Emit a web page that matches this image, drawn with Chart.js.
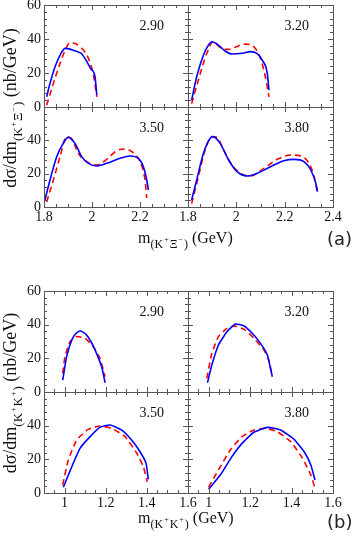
<!DOCTYPE html>
<html>
<head>
<meta charset="utf-8">
<script src="https://cdn.jsdelivr.net/npm/chart.js@4.4.1/dist/chart.umd.min.js"></script>
<style>
  body { margin: 0; background: #fff; }
  #wrap { position: relative; width: 353px; height: 546px; overflow: hidden; }
  #wrap canvas { position: absolute; left: 0; top: 0; }
  .txt { position: absolute; white-space: nowrap; font-family: "Liberation Serif", serif; color: #111; }
  .xt { font-size: 16px; line-height: 16px; }
  .yt { font-size: 18px; line-height: 18px; transform: translate(-50%, -50%) rotate(-90deg); }
  .sb { font-size: 12px; position: relative; top: 5px; }
  .yt .sb { font-size: 13px; top: 6px; }
  .sp { font-size: 8px; position: relative; top: -6px; margin: 0 1px; }
  .tag { position: absolute; font-family: "DejaVu Sans", sans-serif; font-size: 18px; line-height: 18px; color: #222; }
</style>
</head>
<body>
<div id="wrap">
  <canvas id="c0" width="353" height="546"></canvas>
  <canvas id="c1" width="353" height="546"></canvas>
  <canvas id="c2" width="353" height="546"></canvas>
  <canvas id="c3" width="353" height="546"></canvas>
  <canvas id="c4" width="353" height="546"></canvas>
  <canvas id="c5" width="353" height="546"></canvas>
  <canvas id="c6" width="353" height="546"></canvas>
  <canvas id="c7" width="353" height="546"></canvas>

  <div class="txt yt" style="left:12px; top:108px;">dσ/dm<span class="sb">(K<span class="sp">+</span>Ξ<span class="sp">−</span>)</span> (nb/GeV)</div>
  <div class="txt xt" style="left:138px; top:230px;">m<span class="sb">(K<span class="sp">+</span>Ξ<span class="sp">−</span>)</span> (GeV)</div>
  <div class="tag" style="left:327px; top:230px;">(a)</div>

  <div class="txt yt" style="left:12px; top:393px;">dσ/dm<span class="sb">(K<span class="sp">+</span>K<span class="sp">+</span>)</span> (nb/GeV)</div>
  <div class="txt xt" style="left:138px; top:510px;">m<span class="sb">(K<span class="sp">+</span>K<span class="sp">+</span>)</span> (GeV)</div>
  <div class="tag" style="left:327px; top:513px;">(b)</div>
</div>

<script>
// Beam energies shown in each panel
const energies = ["2.90", "3.20", "3.50", "3.80"];

// Tick labels
const xiTicksLeft = [1.8, 2, 2.2];
const xiTicksRight = [1.8, 2, 2.2, 2.4];
const kkTicks = [1, 1.2, 1.4, 1.6];
const yTicksTop = [0, 20, 40, 60];
const yTicksBottom = [0, 20, 40];

// (a) K+Xi- invariant mass, [m, dsigma/dm]
const xiBlue290 = [[1.811, 6], [1.825, 13.9], [1.846, 23.7], [1.871, 31.6], [1.888, 34.5], [1.905, 34.2], [1.925, 33.2], [1.945, 32.2], [1.958, 31.2], [1.975, 27.6], [1.995, 22.5], [2.0125, 17.8], [2.02, 7]];
const xiRed290 = [[1.811, 1], [1.839, 13.9], [1.867, 25.7], [1.89, 34], [1.908, 37.8], [1.93, 37.3], [1.95, 35.5], [1.97, 32.5], [1.985, 28.6], [2.006, 18.8], [2.02, 6]];
const xiBlue320 = [[1.815, 4], [1.836, 17.8], [1.864, 30.6], [1.885, 36.5], [1.899, 38.4], [1.915, 37.5], [1.933, 35.5], [1.955, 32.8], [1.982, 31.2], [2.024, 31.6], [2.06, 32.6], [2.085, 31.5], [2.107, 27.6], [2.128, 19.8], [2.135, 10]];
const xiRed320 = [[1.815, 2], [1.843, 15.9], [1.878, 31.6], [1.905, 38.4], [1.925, 36], [1.947, 33.9], [1.975, 34], [2.0, 35.5], [2.0375, 37], [2.072, 35.5], [2.1, 28.6], [2.12, 17.8], [2.135, 6]];
const xiBlue350 = [[1.804, 4.2], [1.825, 16.2], [1.853, 30.2], [1.88, 38.2], [1.901, 41.8], [1.929, 38.2], [1.957, 30.2], [1.985, 26.2], [2.02, 24.6], [2.061, 26.2], [2.117, 29.2], [2.158, 30.6], [2.193, 29.2], [2.214, 24.2], [2.228, 16.2], [2.235, 10.2]];
const xiRed350 = [[1.811, 3], [1.839, 16.2], [1.867, 30.2], [1.894, 42.2], [1.915, 41], [1.943, 32.2], [1.978, 27.2], [2.02, 25.2], [2.061, 28.6], [2.103, 33.8], [2.138, 34.8], [2.172, 32.6], [2.2, 27.2], [2.221, 16.2], [2.228, 5.4]];
const xiBlue380 = [[1.815, 4.2], [1.836, 16.2], [1.864, 32.2], [1.892, 41.2], [1.903, 42.2], [1.933, 38.2], [1.968, 28.2], [2.003, 21.2], [2.045, 18.6], [2.086, 20.2], [2.142, 24.2], [2.197, 27.8], [2.239, 28.6], [2.28, 27.2], [2.308, 22.2], [2.329, 14.2], [2.336, 9.2]];
const xiRed380 = [[1.815, 2], [1.843, 18.2], [1.871, 34.2], [1.899, 42.2], [1.92, 41.8], [1.947, 34.2], [1.982, 25.2], [2.017, 20.2], [2.058, 18.6], [2.114, 23.2], [2.17, 28.6], [2.225, 31.2], [2.267, 30.6], [2.301, 26.2], [2.322, 18.2], [2.336, 8.2]];

// (b) K+K+ invariant mass, [m, dsigma/dm]
const kkBlue290 = [[0.991, 7.1], [1.01, 21], [1.035, 30.9], [1.055, 34.8], [1.075, 36.2], [1.09, 35.6], [1.107, 33.9], [1.128, 30], [1.148, 25], [1.18, 15.1], [1.197, 5.5]];
const kkRed290 = [[0.991, 11.1], [1.002, 21], [1.026, 29.9], [1.059, 32.9], [1.1, 31.9], [1.14, 26.9], [1.172, 20], [1.197, 9.1]];
const kkBlue320 = [[0.994, 5.5], [1.015, 16], [1.047, 27.9], [1.088, 35.8], [1.128, 40.4], [1.169, 39.4], [1.21, 34.9], [1.25, 28.9], [1.283, 22], [1.307, 9.1]];
const kkRed320 = [[0.991, 8.1], [1.015, 23], [1.047, 32.9], [1.088, 37.8], [1.128, 39.2], [1.177, 36.8], [1.226, 30.9], [1.266, 25], [1.29, 19], [1.307, 9.1]];
const kkBlue350 = [[0.994, 3.4], [1.035, 15.6], [1.075, 26.5], [1.124, 33.5], [1.172, 39], [1.221, 40.4], [1.278, 37.4], [1.326, 31.5], [1.367, 24.5], [1.396, 17.6], [1.407, 8.1]];
const kkRed350 = [[0.991, 4.8], [1.018, 19.6], [1.059, 31.5], [1.115, 37.8], [1.172, 39.8], [1.229, 38.4], [1.294, 33.5], [1.351, 23.6], [1.383, 15.6], [1.402, 6.7]];
const kkBlue380 = [[0.999, 2.2], [1.056, 10.7], [1.112, 21.6], [1.161, 29.5], [1.218, 36.1], [1.283, 39], [1.347, 37.4], [1.412, 31.9], [1.461, 24.5], [1.493, 16.6], [1.513, 7.7]];
const kkRed380 = [[0.999, 3.4], [1.047, 13.7], [1.104, 25.5], [1.161, 33.5], [1.218, 37.4], [1.274, 38.4], [1.331, 36.4], [1.396, 30.5], [1.453, 20.6], [1.493, 10.7], [1.513, 2.8]];

const W = 353, H = 546;

// Layout of the eight frames: [left, top, right, bottom] in px
const subplots = [
  { frame: [44, 5, 188, 107], x: [1.8, 2.4], xTicks: [], yTicks: yTicksTop, blue: xiBlue290, red: xiRed290, energy: energies[0], smooth: true },
  { frame: [188, 5, 333, 107], x: [1.8, 2.4], xTicks: [], yTicks: [], blue: xiBlue320, red: xiRed320, energy: energies[1], smooth: true },
  { frame: [44, 107, 188, 207], x: [1.8, 2.4], xTicks: xiTicksLeft, yTicks: yTicksBottom, blue: xiBlue350, red: xiRed350, energy: energies[2], smooth: true },
  { frame: [188, 107, 333, 207], x: [1.8, 2.4], xTicks: xiTicksRight, yTicks: [], blue: xiBlue380, red: xiRed380, energy: energies[3], smooth: true },
  { frame: [44, 291, 188, 392], x: [0.9, 1.6], xTicks: [], yTicks: yTicksTop, blue: kkBlue290, red: kkRed290, energy: energies[0], smooth: false },
  { frame: [188, 291, 333, 392], x: [0.9, 1.6], xTicks: [], yTicks: [], blue: kkBlue320, red: kkRed320, energy: energies[1], smooth: false },
  { frame: [44, 392, 188, 493], x: [0.9, 1.6], xTicks: kkTicks, yTicks: yTicksBottom, blue: kkBlue350, red: kkRed350, energy: energies[2], smooth: false },
  { frame: [188, 392, 333, 493], x: [0.9, 1.6], xTicks: kkTicks, yTicks: [], blue: kkBlue380, red: kkRed380, energy: energies[3], smooth: false },
];

Chart.defaults.font.family = "'Liberation Serif', serif";
Chart.defaults.font.size = 14;
Chart.defaults.color = "#111";

// Frame with inward major/minor ticks on all four sides, plus energy label
const frameTicks = {
  id: "frameTicks",
  afterDatasetsDraw(chart, args, opts) {
    const { ctx, chartArea: a } = chart;
    const xs = chart.scales.x, ys = chart.scales.y;
    ctx.save();
    ctx.strokeStyle = "#555";
    ctx.lineWidth = 1;
    ctx.strokeRect(a.left + 0.5, a.top + 0.5, a.right - a.left, a.bottom - a.top);

    ctx.beginPath();
    const nx = Math.round((xs.max - xs.min) / opts.xMinor);
    for (let i = 0; i <= nx; i++) {
      const v = xs.min + i * opts.xMinor;
      const major = Math.abs(v / opts.xMajor - Math.round(v / opts.xMajor)) < 1e-6;
      const len = major ? 5 : 3;
      const px = Math.round(xs.getPixelForValue(v)) + 0.5;
      ctx.moveTo(px, a.bottom); ctx.lineTo(px, a.bottom - len);
      ctx.moveTo(px, a.top); ctx.lineTo(px, a.top + len);
    }
    const ny = Math.round((ys.max - ys.min) / opts.yMinor);
    for (let i = 0; i <= ny; i++) {
      const v = ys.min + i * opts.yMinor;
      const major = v % opts.yMajor === 0;
      const len = major ? 5 : 3;
      const py = Math.round(ys.getPixelForValue(v)) + 0.5;
      ctx.moveTo(a.left, py); ctx.lineTo(a.left + len, py);
      ctx.moveTo(a.right, py); ctx.lineTo(a.right - len, py);
    }
    ctx.stroke();

    ctx.fillStyle = "#111";
    ctx.font = "14px 'Liberation Serif', serif";
    ctx.textAlign = "right";
    ctx.textBaseline = "middle";
    ctx.fillText(opts.label, a.right - 24, a.top + 21);
    ctx.restore();
  },
};

function toXY(points) {
  return points.map(([x, y]) => ({ x, y }));
}

function makeChart(idx, sp) {
  const [l, t, r, b] = sp.frame;
  const yw = sp.yTicks.length ? 44 : 0;
  const xh = sp.xTicks.length ? 20 : 0;
  const curve = {
    showLine: true,
    pointRadius: 0,
    borderWidth: 1.6,
    fill: false,
    tension: sp.smooth ? 0.4 : 0.15,
    cubicInterpolationMode: sp.smooth ? "monotone" : "default",
  };

  return new Chart(document.getElementById("c" + idx), {
    type: "scatter",
    data: {
      datasets: [
        Object.assign({ data: toXY(sp.blue), borderColor: "#0000ff" }, curve),
        Object.assign({ data: toXY(sp.red), borderColor: "#ff0000", borderDash: [6, 4] }, curve),
      ],
    },
    options: {
      responsive: false,
      animation: false,
      events: [],
      layout: {
        autoPadding: false,
        padding: { left: l - yw, top: t, right: W - r, bottom: H - b - xh },
      },
      plugins: {
        legend: { display: false },
        tooltip: { enabled: false },
        frameTicks: {
          label: sp.energy,
          xMajor: 0.2,
          xMinor: 0.05,
          yMajor: 20,
          yMinor: 4,
        },
      },
      scales: {
        x: {
          type: "linear",
          min: sp.x[0],
          max: sp.x[1],
          grid: { display: false, drawTicks: false },
          border: { display: false },
          ticks: {
            display: sp.xTicks.length > 0,
            padding: 2,
            maxRotation: 0,
            autoSkip: false,
            callback: (v) => String(+v.toFixed(2)),
          },
          afterBuildTicks: (scale) => {
            scale.ticks = sp.xTicks.map((v) => ({ value: v }));
          },
          afterFit: (scale) => {
            scale.height = xh;
            scale.paddingLeft = 0;
            scale.paddingRight = 0;
          },
        },
        y: {
          min: 0,
          max: 60,
          grid: { display: false, drawTicks: false },
          border: { display: false },
          ticks: {
            display: sp.yTicks.length > 0,
            padding: 3,
            autoSkip: false,
          },
          afterBuildTicks: (scale) => {
            scale.ticks = sp.yTicks.map((v) => ({ value: v }));
          },
          afterFit: (scale) => {
            scale.width = yw;
            scale.paddingTop = 0;
            scale.paddingBottom = 0;
          },
        },
      },
    },
    plugins: [frameTicks],
  });
}

subplots.forEach((sp, i) => makeChart(i, sp));
</script>
</body>
</html>
